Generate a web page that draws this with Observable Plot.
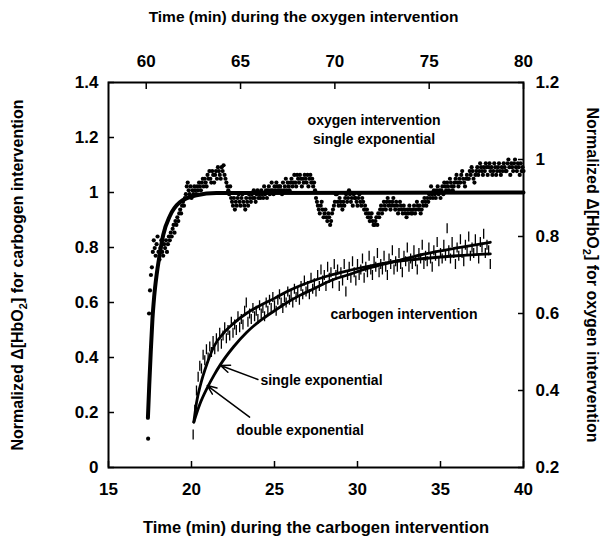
<!DOCTYPE html>
<html><head><meta charset="utf-8">
<script src="https://cdn.jsdelivr.net/npm/d3@7"></script>
<script src="https://cdn.jsdelivr.net/npm/@observablehq/plot@0.6"></script>
<style>body{margin:0;background:#fff}</style>
</head><body><div id="chart"></div>
<script>
// ---- axes (carbogen = bottom/left, oxygen = top/right) ----
const carbogenXTicks = [15, 20, 25, 30, 35, 40];
const carbogenYTicks = [0, 0.2, 0.4, 0.6, 0.8, 1, 1.2, 1.4];
const oxygenXTicks = [60, 65, 70, 75, 80];
const oxygenYTicks = [0.2, 0.4, 0.6, 0.8, 1, 1.2];
const carbogenXDomain = [15, 40];
const carbogenYDomain = [0, 1.4];
const oxygenXDomain = [58, 80];
const oxygenYDomain = [0.2, 1.2];

// ---- oxygen intervention data (time in min, normalized value, right axis units) ----
const oxygenStart = 60.1, oxygenStep = 0.05;
const oxygenValues = [
  0.275,0.60,0.66,0.70,0.72,0.76,0.79,0.77,0.75,0.78,0.80,0.76,0.74,0.77,0.79,0.76,0.75,0.78,0.77,0.79,
  0.76,0.78,0.80,0.79,0.81,0.80,0.82,0.83,0.81,0.84,0.83,0.85,0.84,0.86,0.87,0.86,0.88,0.89,0.88,0.90,
  0.91,0.93,0.94,0.92,0.91,0.93,0.90,0.92,0.91,0.93,0.92,0.91,0.93,0.92,0.94,0.93,0.92,0.94,0.95,0.93,
  0.95,0.94,0.93,0.96,0.95,0.97,0.95,0.94,0.97,0.96,0.94,0.96,0.97,0.95,0.98,0.97,0.96,0.95,0.98,0.97,
  0.985,0.96,0.95,0.94,0.93,0.92,0.91,0.93,0.90,0.89,0.88,0.90,0.87,0.89,0.88,0.90,0.91,0.89,0.88,0.90,
  0.91,0.89,0.88,0.87,0.90,0.89,0.88,0.91,0.90,0.89,0.91,0.90,0.92,0.90,0.89,0.91,0.92,0.90,0.91,0.90,
  0.92,0.91,0.90,0.93,0.91,0.92,0.90,0.92,0.93,0.91,0.92,0.94,0.92,0.91,0.93,0.92,0.94,0.93,0.92,0.93,
  0.93,0.92,0.91,0.94,0.92,0.93,0.95,0.92,0.94,0.93,0.92,0.94,0.95,0.93,0.94,0.96,0.94,0.93,0.96,0.95,
  0.94,0.96,0.95,0.93,0.95,0.94,0.96,0.95,0.94,0.96,0.93,0.95,0.96,0.94,0.95,0.93,0.94,0.92,0.90,0.89,
  0.88,0.87,0.86,0.88,0.89,0.87,0.85,0.86,0.87,0.85,0.84,0.86,0.85,0.83,0.84,0.86,0.87,0.88,0.89,0.91,
  0.91,0.89,0.88,0.90,0.89,0.88,0.87,0.89,0.88,0.90,0.91,0.89,0.90,0.92,0.91,0.89,0.90,0.88,0.91,0.90,
  0.90,0.89,0.88,0.90,0.91,0.89,0.88,0.90,0.89,0.87,0.88,0.86,0.87,0.85,0.86,0.84,0.85,0.86,0.84,0.83,
  0.83,0.84,0.85,0.83,0.86,0.85,0.87,0.88,0.86,0.87,0.89,0.88,0.87,0.89,0.90,0.88,0.89,0.87,0.88,0.89,
  0.90,0.88,0.87,0.89,0.88,0.86,0.87,0.89,0.88,0.87,0.86,0.88,0.87,0.86,0.85,0.87,0.86,0.88,0.87,0.86,
  0.86,0.87,0.88,0.86,0.87,0.89,0.88,0.87,0.88,0.86,0.87,0.89,0.88,0.90,0.89,0.88,0.90,0.89,0.91,0.90,
  0.93,0.91,0.90,0.92,0.91,0.90,0.92,0.93,0.91,0.92,0.90,0.92,0.93,0.91,0.94,0.93,0.92,0.94,0.93,0.92,
  0.95,0.94,0.93,0.92,0.93,0.94,0.95,0.96,0.94,0.93,0.95,0.94,0.96,0.97,0.95,0.94,0.93,0.95,0.96,0.95,
  0.95,0.97,0.96,0.98,0.97,0.95,0.94,0.96,0.97,0.98,0.96,0.97,0.99,0.98,0.97,0.96,0.98,0.97,0.99,0.98,
  0.96,0.98,0.99,0.97,0.98,0.96,0.97,0.99,0.98,0.96,0.97,0.98,0.99,0.97,0.96,0.98,0.97,0.99,0.98,0.97,
  0.97,0.99,1.00,0.98,0.96,0.99,0.98,0.97,0.99,1.00,0.98,0.97,0.99,0.98,0.96,0.99,0.97,0.98,0.97
];
// oxygen single-exponential fit
const oxygenFitTime  = [60.09,60.16,60.24,60.33,60.42,60.55,60.68,60.90,61.26,61.78,62.66,63.72,80];
const oxygenFitValue = [0.329,0.414,0.500,0.586,0.643,0.700,0.743,0.804,0.854,0.889,0.907,0.913,0.914];

// ---- carbogen intervention data (left axis units) ----
const carbogenStart = 20.1, carbogenStep = 0.1;
const carbogenValues = [
  0.12,0.21,0.28,0.33,0.37,0.36,0.41,0.39,0.43,0.40,
  0.44,0.42,0.46,0.43,0.47,0.44,0.49,0.45,0.48,0.51,
  0.47,0.50,0.48,0.53,0.49,0.52,0.50,0.55,0.51,0.54,
  0.52,0.57,0.60,0.53,0.56,0.54,0.58,0.55,0.57,0.54,
  0.59,0.56,0.58,0.55,0.60,0.57,0.61,0.58,0.62,0.59,
  0.57,0.61,0.63,0.60,0.58,0.62,0.60,0.64,0.61,0.63,
  0.60,0.65,0.62,0.64,0.61,0.66,0.63,0.68,0.64,0.66,
  0.63,0.69,0.65,0.67,0.64,0.70,0.66,0.72,0.68,0.70,
  0.66,0.73,0.69,0.71,0.67,0.74,0.70,0.72,0.66,0.71,
  0.68,0.74,0.64,0.70,0.73,0.69,0.75,0.71,0.68,0.74,
  0.70,0.72,0.76,0.69,0.73,0.71,0.77,0.72,0.70,0.75,
  0.73,0.78,0.71,0.74,0.72,0.77,0.73,0.70,0.76,0.74,
  0.79,0.72,0.75,0.73,0.78,0.74,0.71,0.77,0.75,0.80,
  0.73,0.76,0.74,0.79,0.75,0.72,0.78,0.76,0.81,0.74,
  0.77,0.75,0.80,0.76,0.73,0.79,0.77,0.82,0.75,0.78,
  0.76,0.81,0.77,0.87,0.79,0.76,0.82,0.78,0.74,0.80,
  0.77,0.83,0.78,0.75,0.81,0.79,0.84,0.77,0.80,0.78,
  0.83,0.79,0.76,0.82,0.80,0.85,0.78,0.81,0.79,0.74
];
// carbogen fits
const doubleFitTime  = [20.14,20.3,20.54,20.95,21.35,21.95,22.55,23.3,24.16,25.0,25.76,26.5,27.37,28.4,29.4,30.5,32.4,34,36,38];
const doubleFitValue = [0.165,0.235,0.30,0.38,0.44,0.49,0.525,0.56,0.59,0.615,0.64,0.66,0.68,0.70,0.715,0.73,0.75,0.76,0.77,0.777];
const singleFitTime  = [20.14,20.5,20.95,21.35,21.75,22.55,23.3,24.16,25.0,25.76,26.5,27.37,28.4,29.4,30.5,32.4,34,36,38];
const singleFitValue = [0.165,0.23,0.29,0.335,0.375,0.44,0.49,0.535,0.57,0.60,0.625,0.65,0.68,0.70,0.722,0.752,0.776,0.799,0.819];

// ---- texts ----
const topTitle = "Time (min) during the oxygen intervention";
const bottomTitle = "Time (min) during the carbogen intervention";
const leftTitle = "Normalized \u0394[HbO2] for carbogen intervention";
const rightTitle = "Normalized \u0394[HbO2] for oxygen intervention";
const centerNotes = [
  {label: "oxygen intervention", t: 31.0, v: 1.262},
  {label: "single exponential", t: 31.0, v: 1.193}
];
const startNotes = [
  {label: "carbogen intervention", t: 28.37, v: 0.556},
  {label: "single exponential", t: 24.15, v: 0.316},
  {label: "double exponential", t: 22.7, v: 0.135}
];
const arrows = [
  {t1: 24.0, v1: 0.32, t2: 21.75, v2: 0.371},
  {t1: 23.5, v1: 0.183, t2: 20.95, v2: 0.298}
];

// ---- mapping of the oxygen axes onto the carbogen scales ----
const oxT = t => carbogenXDomain[0] + (t - oxygenXDomain[0]) * (carbogenXDomain[1] - carbogenXDomain[0]) / (oxygenXDomain[1] - oxygenXDomain[0]);
const oxTinv = x => oxygenXDomain[0] + (x - carbogenXDomain[0]) * (oxygenXDomain[1] - oxygenXDomain[0]) / (carbogenXDomain[1] - carbogenXDomain[0]);
const oxV = v => carbogenYDomain[0] + (v - oxygenYDomain[0]) * (carbogenYDomain[1] - carbogenYDomain[0]) / (oxygenYDomain[1] - oxygenYDomain[0]);
const oxVinv = y => oxygenYDomain[0] + (y - carbogenYDomain[0]) * (oxygenYDomain[1] - oxygenYDomain[0]) / (carbogenYDomain[1] - carbogenYDomain[0]);

const oxygen = oxygenValues.map((v, i) => ({t: oxygenStart + i * oxygenStep, v}));
const oxygenFit = oxygenFitTime.map((t, i) => ({t, v: oxygenFitValue[i]}));
const carbogen = carbogenValues.map((v, i) => ({t: carbogenStart + i * carbogenStep, v}));
const doubleFit = doubleFitTime.map((t, i) => ({t, v: doubleFitValue[i]}));
const singleFit = singleFitTime.map((t, i) => ({t, v: singleFitValue[i]}));

const dash = {draw(ctx, size) { const r = Math.sqrt(size / Math.PI); ctx.moveTo(0, -r); ctx.lineTo(0, r); }};
const fmt = d => String(+(+d).toFixed(1));
const font = "'Liberation Sans', Arial, Helvetica, sans-serif";

const svg = Plot.plot({
  width: 600, height: 537,
  marginLeft: 108, marginRight: 77, marginTop: 82, marginBottom: 70,
  x: {domain: carbogenXDomain},
  y: {domain: carbogenYDomain},
  style: {fontFamily: font, fontWeight: "bold", color: "black", background: "white", overflow: "visible"},
  marks: [
    Plot.dot(carbogen, {x: "t", y: "v", symbol: dash, r: 5, stroke: "black", strokeWidth: 1.3, fill: "none"}),
    Plot.dot(oxygen, {x: d => oxT(d.t), y: d => oxV(d.v), r: 2.1, fill: "black"}),
    Plot.line(oxygenFit, {x: d => oxT(d.t), y: d => oxV(d.v), stroke: "black", strokeWidth: 4, curve: "monotone-x"}),
    Plot.line(doubleFit, {x: "t", y: "v", stroke: "black", strokeWidth: 2.8, curve: "monotone-x"}),
    Plot.line(singleFit, {x: "t", y: "v", stroke: "black", strokeWidth: 2.8, curve: "monotone-x"}),
    Plot.arrow(arrows, {x1: "t1", y1: "v1", x2: "t2", y2: "v2", stroke: "black", strokeWidth: 1.5, headLength: 10, headAngle: 45}),
    Plot.frame({stroke: "black", strokeWidth: 2}),
    Plot.axisX(carbogenXTicks, {anchor: "bottom", tickSize: -6, tickPadding: 21, tickFormat: d => String(d), fontSize: 17, strokeWidth: 1.5, label: null}),
    Plot.axisY(carbogenYTicks, {anchor: "left", tickSize: -6, tickPadding: 16, tickFormat: fmt, fontSize: 17, strokeWidth: 1.5, label: null}),
    Plot.axisX(oxygenXTicks.map(oxT), {anchor: "top", tickSize: -6, tickPadding: 22, tickFormat: d => String(Math.round(oxTinv(d))), fontSize: 17, strokeWidth: 1.5, label: null}),
    Plot.axisY(oxygenYTicks.map(oxV), {anchor: "right", tickSize: -6, tickPadding: 18, tickFormat: d => fmt(oxVinv(d)), fontSize: 17, strokeWidth: 1.5, label: null}),
    Plot.text(centerNotes, {x: "t", y: "v", text: "label", textAnchor: "middle", fontSize: 14, fontWeight: "bold", fill: "black"}),
    Plot.text(startNotes, {x: "t", y: "v", text: "label", textAnchor: "start", fontSize: 14, fontWeight: "bold", fill: "black"}),
    Plot.text([topTitle], {text: d => d, frameAnchor: "top-left", dx: 195, dy: -65, textAnchor: "middle", lineAnchor: "middle", fontSize: 15.5, fontWeight: "bold"}),
    Plot.text([bottomTitle], {text: d => d, frameAnchor: "bottom", dy: 60, textAnchor: "middle", lineAnchor: "middle", fontSize: 16.5, fontWeight: "bold"}),
    Plot.text([leftTitle], {text: d => d, frameAnchor: "left", dx: -91, rotate: -90, textAnchor: "middle", lineAnchor: "middle", fontSize: 16, fontWeight: "bold"}),
    Plot.text([rightTitle], {text: d => d, frameAnchor: "right", dx: 69, rotate: 90, textAnchor: "middle", lineAnchor: "middle", fontSize: 16, fontWeight: "bold"})
  ]
});

// subscript 2 in HbO2
d3.select(svg).selectAll("text").each(function() {
  const s = this.textContent;
  if (s.includes("HbO2") && this.childElementCount === 0) {
    const [a, b] = s.split("HbO2");
    this.textContent = "";
    const t = d3.select(this);
    t.append("tspan").text(a + "HbO");
    t.append("tspan").attr("dy", 4).attr("font-size", 11).text("2");
    t.append("tspan").attr("dy", -4).text(b);
  }
});
document.getElementById("chart").appendChild(svg);
</script>
</body></html>
